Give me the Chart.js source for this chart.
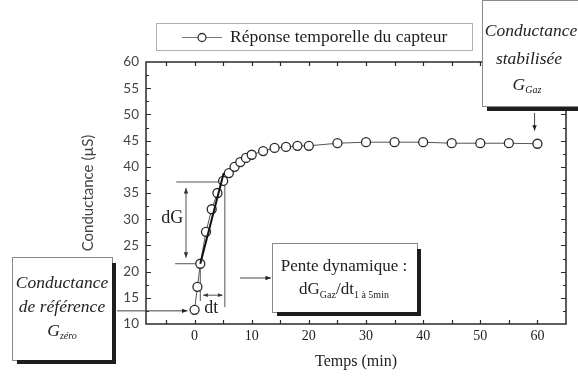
<!DOCTYPE html>
<html><head><meta charset="utf-8">
<script src="https://cdn.jsdelivr.net/npm/chart.js@4.4.1/dist/chart.umd.min.js"></script>
<style>html,body{margin:0;padding:0;background:#fff}#wrap{width:578px;height:376px}</style>
</head><body><div id="wrap"><canvas id="c" width="578" height="376"></canvas></div>
<script>
// ---- data ----
const timeMin = [0,0.5,1,2,3,4,5,6,7,8,9,10,12,14,16,18,20,25,30,35,40,45,50,55,60];
const conductance = [12.7,17.1,21.5,27.6,31.9,35.0,37.3,38.8,40.0,40.9,41.7,42.3,43.0,43.6,43.8,44.0,44.0,44.5,44.7,44.7,44.7,44.5,44.5,44.5,44.4];
const slopeTime = [1, 5.1];
const slopeG = [21.5, 38.8];
const xTickLabels = [0,10,20,30,40,50,60];
const yTickLabels = [10,15,20,25,30,35,40,45,50,55,60];
const seriesLabel = 'Réponse temporelle du capteur';

const SERIF = '"Liberation Serif", "Times New Roman", serif';
const SANS = 'Lato, "DejaVu Sans", sans-serif';

function arrowHead(ctx, x1, y1, x2, y2, size){
  const a = Math.atan2(y2-y1, x2-x1);
  ctx.beginPath();
  ctx.moveTo(x2, y2);
  ctx.lineTo(x2 - size*Math.cos(a-0.38), y2 - size*Math.sin(a-0.38));
  ctx.lineTo(x2 - size*Math.cos(a+0.38), y2 - size*Math.sin(a+0.38));
  ctx.closePath(); ctx.fill();
}
function arrow(ctx, x1, y1, x2, y2, size, both){
  ctx.beginPath(); ctx.moveTo(x1,y1); ctx.lineTo(x2,y2); ctx.stroke();
  arrowHead(ctx, x1, y1, x2, y2, size);
  if (both) arrowHead(ctx, x2, y2, x1, y1, size);
}
function richText(ctx, parts, cx, cy, size, italic){
  let w = 0;
  const f = parts.map(([t,s]) => {
    const font = (italic?'italic ':'') + (s ? Math.round(size*0.58) : size) + 'px ' + SERIF;
    ctx.font = font; const m = ctx.measureText(t).width; w += m; return [font, m];
  });
  let x = cx - w/2;
  ctx.textAlign = 'left'; ctx.textBaseline = 'middle';
  parts.forEach(([t,s], i) => { ctx.font = f[i][0]; ctx.fillText(t, x, s ? cy + size*0.32 : cy); x += f[i][1]; });
}
function shadowBox(ctx, x, y, w, h, sh, shadowRight, shadowBottom){
  ctx.fillStyle = '#fff'; ctx.fillRect(x, y, w, h);
  ctx.strokeStyle = '#8a8a8a'; ctx.lineWidth = 1; ctx.strokeRect(x+0.5, y+0.5, w, h);
  ctx.fillStyle = '#1e1e1e';
  if (shadowRight) ctx.fillRect(x+w, y+6, sh, h-6+sh);
  if (shadowBottom) ctx.fillRect(x+5, y+h, w-5+sh, sh);
}

const decor = {
  id: 'decor',
  beforeDraw(chart){
    const ctx = chart.ctx; ctx.save(); ctx.fillStyle = '#fff'; ctx.fillRect(0,0,chart.width,chart.height); ctx.restore();
  },
  beforeDatasetsDraw(chart){
    const {ctx, chartArea:a, scales:{x, y}} = chart;
    ctx.save();
    ctx.strokeStyle = '#2a2a2a'; ctx.lineWidth = 1.5;
    ctx.strokeRect(a.left, a.top, a.right-a.left, a.bottom-a.top);
    ctx.lineWidth = 1.2; ctx.beginPath();
    for (let v = -5; v <= 60; v += 5){
      const px = Math.round(x.getPixelForValue(v)) + 0.5;
      ctx.moveTo(px, a.bottom); ctx.lineTo(px, a.bottom-4);
      ctx.moveTo(px, a.top); ctx.lineTo(px, a.top+4);
    }
    for (let v = 12.5; v < 60; v += 2.5){
      const py = Math.round(y.getPixelForValue(v)) + 0.5;
      const L = (v % 5 === 0) ? 5 : 3;
      ctx.moveTo(a.left, py); ctx.lineTo(a.left+L, py);
      ctx.moveTo(a.right, py); ctx.lineTo(a.right-L, py);
    }
    ctx.stroke();

    // dG / dt construction
    ctx.strokeStyle = '#555'; ctx.fillStyle = '#333'; ctx.lineWidth = 1;
    const gTop = 37.1, gBot = slopeG[0];
    ctx.beginPath();
    ctx.moveTo(x.getPixelForValue(-3.2), y.getPixelForValue(gTop)); ctx.lineTo(x.getPixelForValue(5.3), y.getPixelForValue(gTop));
    ctx.moveTo(x.getPixelForValue(-3.4), y.getPixelForValue(gBot)); ctx.lineTo(x.getPixelForValue(1), y.getPixelForValue(gBot));
    ctx.moveTo(x.getPixelForValue(5.3), y.getPixelForValue(gTop)); ctx.lineTo(x.getPixelForValue(5.3), y.getPixelForValue(13.2));
    ctx.moveTo(x.getPixelForValue(1), y.getPixelForValue(gBot)); ctx.lineTo(x.getPixelForValue(1), y.getPixelForValue(14.4));
    ctx.stroke();
    const ax = x.getPixelForValue(-1.5);
    arrow(ctx, ax, y.getPixelForValue(gTop)+6, ax, y.getPixelForValue(gBot)-6, 6, true);
    const dy = y.getPixelForValue(15.5);
    arrow(ctx, x.getPixelForValue(1.5), dy, x.getPixelForValue(4.9), dy, 5, true);
    ctx.fillStyle = '#222';
    ctx.font = '18px ' + SERIF; ctx.textAlign = 'center'; ctx.textBaseline = 'middle';
    ctx.fillText('dG', x.getPixelForValue(-3.9), y.getPixelForValue(30.2));
    ctx.fillText('dt', x.getPixelForValue(2.9), y.getPixelForValue(13.0));
    ctx.restore();
  },
  afterDraw(chart){
    const {ctx, scales:{x, y}} = chart;
    ctx.save();
    // legend
    ctx.strokeStyle = '#b0b0b0'; ctx.lineWidth = 1; ctx.strokeRect(156.5, 23.5, 316, 27);
    ctx.strokeStyle = '#777'; ctx.beginPath(); ctx.moveTo(182, 37.5); ctx.lineTo(222, 37.5); ctx.stroke();
    ctx.fillStyle = '#fff'; ctx.strokeStyle = '#333'; ctx.lineWidth = 1.3;
    ctx.beginPath(); ctx.arc(202, 37.5, 4, 0, Math.PI*2); ctx.fill(); ctx.stroke();
    ctx.fillStyle = '#1e1e1e'; ctx.font = '17.5px ' + SERIF; ctx.textAlign = 'left'; ctx.textBaseline = 'middle';
    ctx.fillText(chart.data.datasets[0].label, 230, 37);

    // Conductance de référence
    shadowBox(ctx, 12, 257, 100, 103, 4, true, true);
    ctx.fillStyle = '#222';
    richText(ctx, [['Conductance', false]], 62, 283, 17.5, true);
    richText(ctx, [['de référence', false]], 62, 307, 17.5, true);
    richText(ctx, [['G', false], ['zéro', true]], 62, 331, 17.5, true);
    ctx.strokeStyle = '#444'; ctx.fillStyle = '#222'; ctx.lineWidth = 1;
    const y0 = y.getPixelForValue(conductance[0]) + 1;
    arrow(ctx, 117, y0, x.getPixelForValue(timeMin[0]) - 7, y0, 6, false);

    // Pente dynamique
    shadowBox(ctx, 272, 243, 145, 69, 4, true, true);
    ctx.fillStyle = '#222';
    richText(ctx, [['Pente dynamique :', false]], 344, 267, 17, false);
    richText(ctx, [['dG', false], ['Gaz', true], ['/dt', false], ['1 à 5min', true]], 344, 290, 17, false);
    ctx.strokeStyle = '#444'; ctx.fillStyle = '#222';
    arrow(ctx, 240, 278, 271, 278, 6, false);

    // Conductance stabilisée
    ctx.fillStyle = '#fff'; ctx.fillRect(482, 0, 100, 107);
    ctx.strokeStyle = '#8a8a8a'; ctx.lineWidth = 1; ctx.strokeRect(482.5, 0.5, 100, 106);
    ctx.fillStyle = '#1e1e1e'; ctx.fillRect(487, 107, 95, 4);
    ctx.fillStyle = '#222';
    richText(ctx, [['Conductance', false]], 531, 31, 17.5, true);
    richText(ctx, [['stabilisée', false]], 529, 59, 17.5, true);
    richText(ctx, [['G', false], ['Gaz', true]], 527, 85, 17.5, true);
    ctx.strokeStyle = '#444'; ctx.fillStyle = '#222';
    const sx = x.getPixelForValue(59.5);
    arrow(ctx, sx, 113, sx, y.getPixelForValue(conductance[conductance.length-1]) - 13, 6, false);
    ctx.restore();
  }
};

new Chart(document.getElementById('c'), {
  type: 'line',
  data: {
    datasets: [
      {
        label: seriesLabel,
        data: timeMin.map((t, i) => ({x: t, y: conductance[i]})),
        borderColor: '#555', borderWidth: 1,
        pointRadius: 4.5, pointBorderWidth: 1.3, pointBorderColor: '#2a2a2a', pointBackgroundColor: '#fff',
        tension: 0, order: 1
      },
      {
        label: 'Pente',
        data: slopeTime.map((t, i) => ({x: t, y: slopeG[i]})),
        borderColor: '#111', borderWidth: 2, pointRadius: 0, tension: 0, order: 0
      }
    ]
  },
  options: {
    responsive: false, animation: false, devicePixelRatio: 1,
    layout: {padding: {top: 62, right: 12, left: 0, bottom: 0}},
    plugins: {legend: {display: false}, tooltip: {enabled: false}},
    scales: {
      x: {
        type: 'linear', min: -8.5, max: 65,
        afterBuildTicks: s => { s.ticks = xTickLabels.map(v => ({value: v})); },
        afterFit: s => { s.height = 52; },
        grid: {display: false, drawTicks: false}, border: {display: false},
        ticks: {padding: 4, autoSkip: false, maxRotation: 0, color: '#222', font: {family: SERIF, size: 14}},
        title: {display: true, text: 'Temps (min)', color: '#222', font: {family: SERIF, size: 16}, padding: {top: 0, bottom: 5}}
      },
      y: {
        type: 'linear', min: 10, max: 60,
        afterBuildTicks: s => { s.ticks = yTickLabels.map(v => ({value: v})); },
        afterFit: s => { s.width = 146; },
        grid: {display: false, drawTicks: false}, border: {display: false},
        ticks: {padding: 7, autoSkip: false, color: '#444', font: {family: SANS, size: 13.5}},
        title: {display: true, text: 'Conductance (µS)', color: '#444', font: {family: SANS, size: 15}, padding: {top: 79, bottom: 0}}
      }
    }
  },
  plugins: [decor]
});
</script>
</body></html>
